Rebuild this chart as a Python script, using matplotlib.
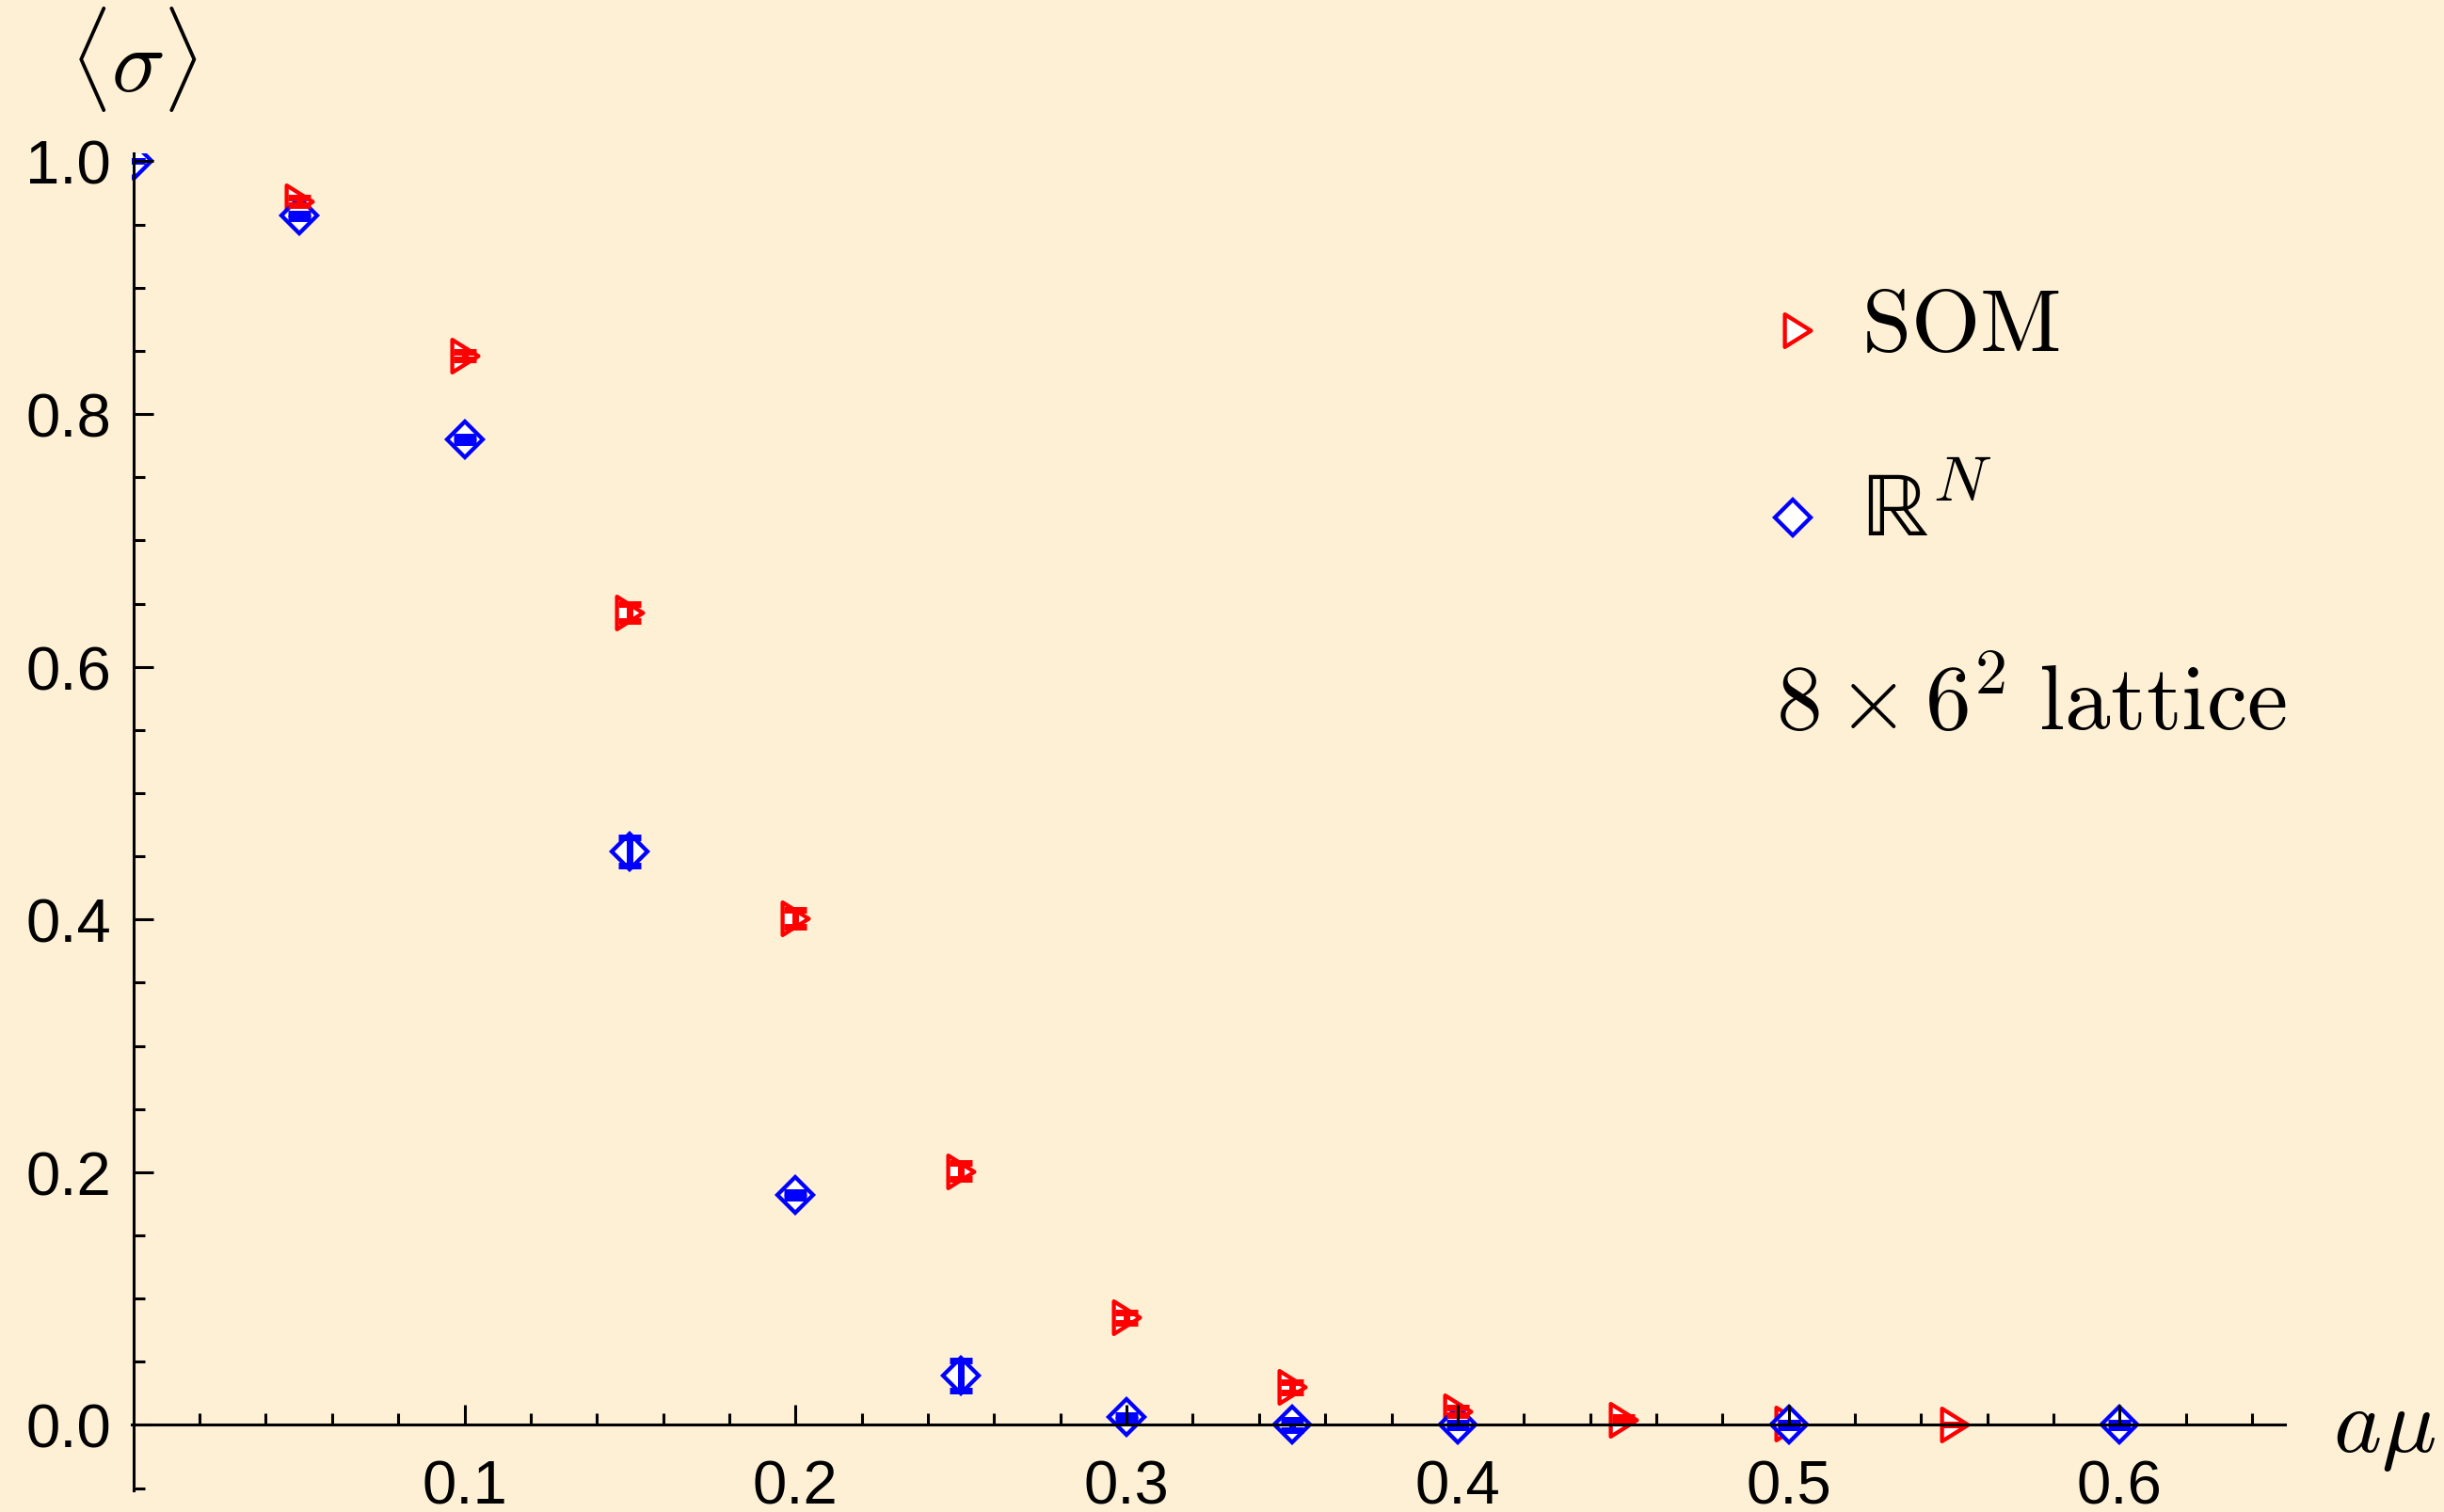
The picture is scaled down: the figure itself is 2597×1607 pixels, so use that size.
import matplotlib
matplotlib.use("Agg")
import matplotlib.pyplot as plt
from matplotlib.path import Path
from matplotlib.markers import MarkerStyle

plt.rcParams['mathtext.fontset'] = 'cm'

# SOM data (red triangles)
x_som = [0.05, 0.10, 0.15, 0.20, 0.25, 0.30, 0.35, 0.40, 0.45, 0.50, 0.55]
y_som = [0.968, 0.846, 0.643, 0.401, 0.201, 0.085, 0.030, 0.011, 0.004, 0.001, 0.0]
e_som = [0.003, 0.003, 0.007, 0.007, 0.006, 0.004, 0.004, 0.003, 0.002, 0.001, 0.0]

# R^N data (blue diamonds)
x_rn = [0.0, 0.05, 0.10, 0.15, 0.20, 0.25, 0.30, 0.35, 0.40, 0.50, 0.60]
y_rn = [1.0, 0.957, 0.780, 0.454, 0.182, 0.039, 0.006, 0.0, 0.0, 0.0, 0.0]
e_rn = [0.0, 0.002, 0.002, 0.011, 0.002, 0.012, 0.002, 0.004, 0.002, 0.002, 0.002]

x_major = [0.1, 0.2, 0.3, 0.4, 0.5, 0.6]
x_minor = [i * 0.02 for i in range(1, 33)]
y_major = [0.0, 0.2, 0.4, 0.6, 0.8, 1.0]
y_minor = [-0.05 + i * 0.05 for i in range(21)]

bg = '#fef0d5'
red = '#ff0000'
blue = '#0000ff'

tri = MarkerStyle(Path([(-0.8, 1), (-0.8, -1), (0.8, 0), (-0.8, 1)],
                       [1, 2, 2, 79]), joinstyle='miter')

fig = plt.figure(figsize=(25.97, 16.08), dpi=100, facecolor=bg)
ax = fig.add_axes([140 / 2597, 1 - 1585.3 / 1608, 2288.3 / 2597, 1420.9 / 1608])
ax.set_facecolor(bg)
ax.patch.set_alpha(0)

ax.plot(x_som, y_som, ls='none', marker=tri, ms=25, mfc='white', mec=red, mew=3.1, zorder=2)
ax.plot(x_rn, y_rn, ls='none', marker='D', ms=19.5, mfc='white', mec=blue, mew=3.1, zorder=2)
ax.errorbar(x_som, y_som, yerr=e_som, fmt='none', ecolor=red, elinewidth=5,
            capsize=8.3, capthick=5, zorder=2.2)
ax.errorbar(x_rn, y_rn, yerr=e_rn, fmt='none', ecolor=blue, elinewidth=5,
            capsize=8.3, capthick=5, zorder=2.2)

ax.set_xlim(-0.0005, 0.65)
ax.set_ylim(-0.052, 1.006)
ax.set_axisbelow(False)

for s in ['top', 'right']:
    ax.spines[s].set_visible(False)
ax.spines['left'].set_position(('data', 0))
ax.spines['bottom'].set_position(('data', 0))
for s in ['left', 'bottom']:
    ax.spines[s].set_linewidth(2.2)

ax.set_xticks(x_major)
ax.set_xticks(x_minor, minor=True)
ax.set_yticks(y_major)
ax.set_yticks(y_minor, minor=True)
ax.set_xticklabels(['%.1f' % v for v in x_major])
ax.set_yticklabels(['%.1f' % v for v in y_major])
ax.tick_params(which='major', direction='in', length=15, width=2.2)
ax.tick_params(which='minor', direction='in', length=8.5, width=2.2)
ax.tick_params(axis='x', which='major', pad=26)
ax.tick_params(axis='y', which='major', pad=17)
for lab in ax.get_xticklabels() + ax.get_yticklabels():
    lab.set_fontfamily('Liberation Sans')
    lab.set_fontsize(47)

# axis labels
fig.text(142 / 2597, 1 - 63 / 1608, r'$\langle\sigma\rangle$', fontsize=68,
         ha='center', va='center')
fig.text(2479 / 2597, 1 - 1543 / 1608, r'$a\mu$', fontsize=70,
         ha='left', va='baseline')

# legend
ax.plot([0.7735], [0.8678], transform=ax.transAxes, ls='none', marker=tri, ms=25,
        mfc='white', mec=red, mew=3.1, clip_on=False)
ax.plot([0.7715], [0.7279], transform=ax.transAxes, ls='none', marker='D', ms=19.5,
        mfc='white', mec=blue, mew=3.1, clip_on=False)
ax.text(0.8032, 0.8532, r'$\mathrm{SOM}$', transform=ax.transAxes, fontsize=68,
        ha='left', va='baseline')
ax.text(0.8032, 0.7145, '$\\mathrm{\u211d}^N$', transform=ax.transAxes, fontsize=70,
        ha='left', va='baseline')
ax.text(0.7634, 0.5697, r'$8\times6^2\ \mathrm{lattice}$', transform=ax.transAxes,
        fontsize=70, ha='left', va='baseline')

fig.savefig('out.png', dpi=100, facecolor=bg)
